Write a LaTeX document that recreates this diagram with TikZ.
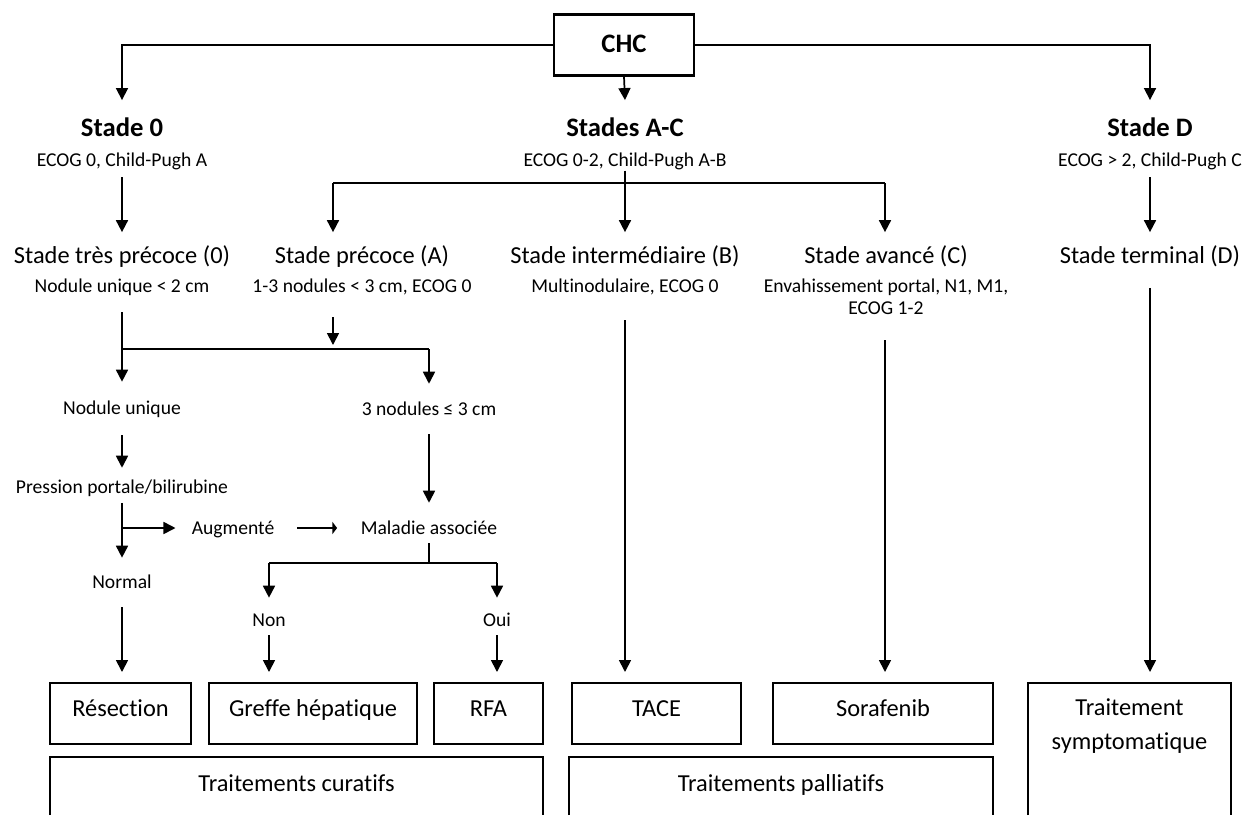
\documentclass[tikz,border=0pt]{standalone}
\usepackage{fontspec}
\setmainfont{Carlito}[Ligatures=CommonOff]
\usetikzlibrary{arrows.meta,positioning}

\begin{document}
\begin{tikzpicture}[
        x=0.75pt, y=-0.75pt,
        every node/.append style={black, inner sep=0pt},
        hd/.style={text height=12.9pt, text depth=0pt,
            font=\fontsize{20}{24}\selectfont\bfseries, outer ysep=14.5pt},
        lv/.style={text height=11.8pt, text depth=0pt,
            font=\fontsize{18.3}{22}\selectfont, outer ysep=12pt},
        sb/.style={text height=9.5pt, text depth=0pt,
            font=\fontsize{14.7}{18}\selectfont},
        bx/.style={draw, line width=1.6pt, text height=11.8pt, text depth=6.8pt,
            font=\fontsize{18.3}{22}\selectfont, minimum height=45.75pt,
            outer ysep=8.25pt},
        frm/.style={line width=1.6pt},
        ln/.style={line width=1.3pt},
        arr/.style={ln, -{Triangle[length=9pt,width=9pt]}},
        arrshort/.style={ln, -{Triangle[length=3.5pt,width=9pt]}}
    ]
    \useasboundingbox (0,0) rectangle (1247,815);

    % CHC and the three stages
    \node[bx, font=\fontsize{20}{24}\selectfont\bfseries, text height=12.9pt,
        text depth=2pt, minimum width=105pt, outer ysep=0.8pt] (chc) at (624,45) {CHC};
    \node[hd] (s0) at (122,128) {Stade 0};
    \node[hd] (sac) at (625,128) {Stades A-C};
    \node[hd] (sd) at (1150,128) {Stade D};
    \node[sb] (s0e) at (122,160) {ECOG 0, Child-Pugh A};
    \node[sb] (sace) at (625,160) {ECOG 0-2, Child-Pugh A-B};
    \node[sb] (sde) at (1150,160) {ECOG > 2, Child-Pugh C};

    \draw[arr] (chc.west) -| (s0.north);
    \draw[arr] (chc.east) -| (sd.north);
    \draw[arr] (chc.south) -- (sac.north);

    % sub-stages
    \node[lv] (tp) at (122,256) {Stade très précoce (0)};
    \node[lv] (pr) at (362,256) {Stade précoce (A)};
    \node[lv] (im) at (625,256) {Stade intermédiaire (B)};
    \node[lv] (av) at (886,256) {Stade avancé (C)};
    \node[lv] (te) at (1150,256) {Stade terminal (D)};
    \node[sb] (tps) at (122,286) {Nodule unique < 2 cm};
    \node[sb] (prs) at (362,286) {1-3 nodules < 3 cm, ECOG 0};
    \node[sb] (ims) at (625,286) {Multinodulaire, ECOG 0};
    \node[sb] (avs1) at (886,286) {Envahissement portal, N1, M1,};
    \node[sb] (avs2) at (886,308) {ECOG 1-2};

    \coordinate (acmid) at (625,183);
    \coordinate (acleft) at (333,183);
    \coordinate (acright) at (885,183);
    \draw[arr] ([yshift=-8pt]s0e.south) -- (tp.north);
    \draw[arr] ([yshift=-8pt]sde.south) -- (te.north);
    \draw[ln] ([yshift=-3pt]sace.south) -- (acmid);
    \draw[ln] (acleft) -- (acright);
    \draw[arr] (acleft) -- (acleft |- pr.north);
    \draw[arr] (acmid) -- (im.north);
    \draw[arr] (acright) -- (acright |- av.north);

    % very early / early stage
    \node[sb] (nu) at (122,408) {Nodule unique};
    \node[sb] (tn) at (429,409) {3 nodules ≤ 3 cm};
    \node[sb] (pp) at (122,487) {Pression portale/bilirubine};
    \node[sb] (aug) at (233,528) {Augmenté};
    \node[sb] (mal) at (429,528) {Maladie associée};
    \node[sb] (nor) at (122,582) {Normal};
    \node[sb] (non) at (269,620) {Non};
    \node[sb] (oui) at (497,620) {Oui};

    \coordinate (tpsplit) at (122,349);
    \coordinate (prjoin) at (333,349);
    \coordinate (tnsplit) at (429,349);
    \draw[ln] ([yshift=-14.8pt]tps.south) -- (tpsplit) -- (tnsplit);
    \draw[arr] (prs.south -| prjoin) ++(0,24.7) -- ([yshift=3pt]prjoin);
    \draw[arr] (tpsplit) -- ([yshift=14.8pt]nu.north);
    \draw[arr] (tnsplit) -- ([yshift=14pt]tn.north);
    \draw[arr] ([yshift=-15.5pt]nu.south) -- ([yshift=9.5pt]pp.north);
    \draw[arr] ([yshift=-14pt]tn.south) -- ([yshift=14pt]mal.north);
    \draw[arr] ([yshift=-7pt]pp.south) -- ([yshift=13.3pt]nor.north);
    \draw[arr] (pp |- aug) -- ([xshift=-12pt]aug.west);
    \draw[arrshort] ([xshift=17pt]aug.east) -- ([xshift=-17.6pt]mal.west);

    \coordinate (malsplit) at (429,563);
    \coordinate (nonsplit) at (269,563);
    \coordinate (ouisplit) at (497,563);
    \draw[ln] ([yshift=-6.5pt]mal.south) -- (malsplit);
    \draw[ln] (nonsplit) -- (ouisplit);
    \draw[arr] (nonsplit) -- ([yshift=11.8pt]non.north);
    \draw[arr] (ouisplit) -- ([yshift=11.8pt]oui.north);

    % treatments
    \node[bx, minimum width=105.75pt] (res) at (120.5,713.5) {Résection};
    \node[bx, minimum width=156pt] (gre) at (313,713.5) {Greffe hépatique};
    \node[bx, minimum width=81.75pt] (rfa) at (488.5,713.5) {RFA};
    \node[bx, minimum width=126.75pt] (tace) at (656.5,713.5) {TACE};
    \node[bx, minimum width=165pt] (sora) at (883,713.5) {Sorafenib};

    \draw[frm] (1028,815) |- (1231,683) -- (1231,815);
    \coordinate (symtop) at (1129.5,672);
    \node[font=\fontsize{18.3}{25.5}\selectfont, align=center] (sym) at (1129.5,726)
        {Traitement\\symptomatique};

    \draw[frm] (50,815) |- (543,757) -- (543,815);
    \node[lv, outer ysep=0pt] (cur) at (296.5,784) {Traitements curatifs};
    \draw[frm] (569,815) |- (993,757) -- (993,815);
    \node[lv, outer ysep=0pt] (pal) at (781,784) {Traitements palliatifs};

    \draw[arr] ([yshift=-14pt]nor.south) -- (nor |- res.north);
    \draw[arr] ([yshift=-6.5pt]non.south) -- (non |- gre.north);
    \draw[arr] ([yshift=-6.5pt]oui.south) -- (oui |- rfa.north);
    \draw[arr] ([yshift=-20.8pt]ims.south) -- (ims |- tace.north);
    \draw[arr] ([yshift=-19.3pt]avs2.south -| acright) -- (acright |- sora.north);
    \draw[arr] ([yshift=-6pt]te.south) -- (te |- symtop);
\end{tikzpicture}
\end{document}
